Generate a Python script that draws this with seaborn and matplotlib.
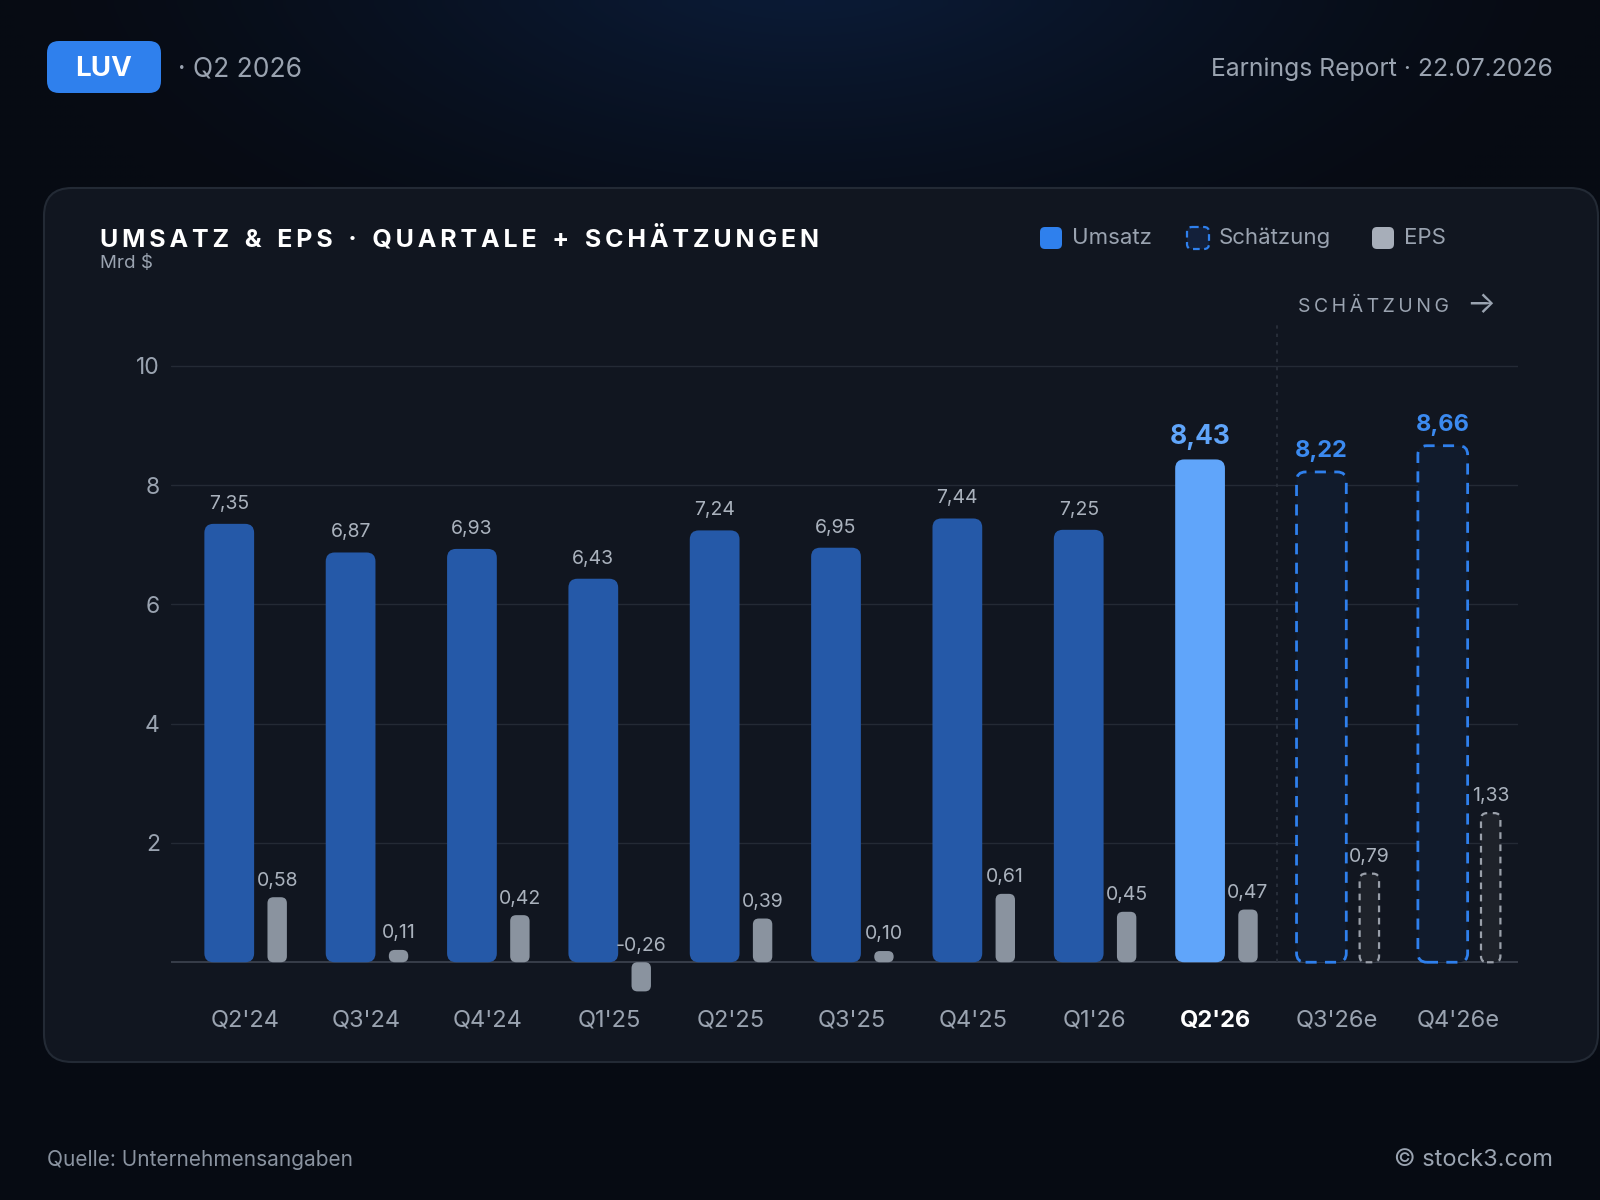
import numpy as np
import matplotlib
matplotlib.use("Agg")
import matplotlib.pyplot as plt
import seaborn as sns
from matplotlib.patches import FancyBboxPatch
from matplotlib.colors import to_rgb

# Daten (Mrd $ / EPS in $)
quartale = ["Q2'24", "Q3'24", "Q4'24", "Q1'25", "Q2'25", "Q3'25", "Q4'25",
            "Q1'26", "Q2'26", "Q3'26e", "Q4'26e"]
umsatz = [7.35, 6.87, 6.93, 6.43, 7.24, 6.95, 7.44, 7.25, 8.43, 8.22, 8.66]
eps = [0.58, 0.11, 0.42, -0.26, 0.39, 0.10, 0.61, 0.45, 0.47, 0.79, 1.33]
schaetzung = [False] * 9 + [True] * 2
aktuell = "Q2'26"
y_ticks = [2, 4, 6, 8, 10]

# Farben
BG = "#0a0f18"
CARD = "#111620"
BLAU = "#2559a8"
BLAU_HELL = "#60a5fa"
BLAU_AKZENT = "#2f80ed"
GRAU = "#8a939f"
TXT = "#9aa3b0"

sns.set_theme(style="white")
plt.rcParams["font.family"] = ["Inter", "DejaVu Sans"]

fig = plt.figure(figsize=(16, 12), dpi=100)
fig.patch.set_facecolor(BG)

# Hintergrund in Pixel-Koordinaten
bg = fig.add_axes([0, 0, 1, 1])
bg.set_xlim(0, 1600)
bg.set_ylim(1200, 0)
bg.axis("off")
yy, xx = np.mgrid[0:120, 0:160]
d = np.sqrt(((xx / 160 - 0.5) / 0.5) ** 2 + ((yy / 120 + 0.05) / 0.32) ** 2)
t = np.clip(1 - d, 0, 1) ** 1.4
c0, c1 = np.array(to_rgb("#070b13")), np.array(to_rgb("#0c1e3d"))
img = c0 + t[..., None] * (c1 - c0)
bg.imshow(img, extent=(0, 1600, 1200, 0), aspect="auto", interpolation="bilinear", zorder=0)

bg.add_patch(FancyBboxPatch((44, 188), 1554, 874, boxstyle="round,pad=0,rounding_size=28",
                            fc=CARD, ec="#232a35", lw=1.5, zorder=1))

# Kopfzeile
bg.add_patch(FancyBboxPatch((47, 41), 114, 52, boxstyle="round,pad=0,rounding_size=12",
                            fc=BLAU_AKZENT, ec="none", zorder=2))
bg.text(104, 69, "LUV", color="white", fontsize=20, fontweight="bold", ha="center", va="center", zorder=3)
bg.text(178, 69, "· Q2 2026", color=TXT, fontsize=19, ha="left", va="center")
bg.text(1553, 69, "Earnings Report · 22.07.2026", color=TXT, fontsize=17.8, ha="right", va="center")

# Kartentitel (gesperrt)
titel = "\u2009".join("UMSATZ & EPS · QUARTALE + SCHÄTZUNGEN").replace(" ", " \u200a")
bg.text(100, 239, titel, color="white", fontsize=18, fontweight="bold",
        ha="left", va="center", zorder=3)
bg.text(100, 263, "Mrd $", color=TXT, fontsize=13.5, ha="left", va="center", zorder=3)

# Legende
leg = [(1051, "Umsatz", dict(fc=BLAU_AKZENT, ec="none")),
       (1198, "Schätzung", dict(fc="#13203a", ec=BLAU_AKZENT, ls=(0, (3, 2)), lw=1.6)),
       (1383, "EPS", dict(fc="#a7aeb9", ec="none"))]
for cx, lab, kw in leg:
    bg.add_patch(FancyBboxPatch((cx - 11, 227), 22, 22, boxstyle="round,pad=0,rounding_size=5",
                                zorder=3, **kw))
    bg.text(cx + 21, 238, lab, color=TXT, fontsize=16, ha="left", va="center", zorder=3)

bg.text(1298, 307, "\u2009".join("SCHÄTZUNG"), color=TXT, fontsize=14,
        ha="left", va="center", zorder=3)
bg.text(1481, 305, "\u2192", color=TXT, fontsize=22, ha="center", va="center", zorder=3)

# Fußzeile
bg.text(47, 1160, "Quelle: Unternehmensangaben", color="#8a93a0", fontsize=15, ha="left", va="center")
bg.text(1553, 1160, "© stock3.com", color="#9aa3b0", fontsize=17, ha="right", va="center")

# Diagramm
ax = fig.add_axes([171 / 1600, 1 - 1004 / 1200, (1518 - 171) / 1600, (1004 - 330) / 1200])
ax.set_facecolor("none")
ax2 = ax.twinx()
ax2.set_facecolor("none")

sns.barplot(x=quartale, y=umsatz, ax=ax, width=0.41, color=BLAU, saturation=1)
sns.barplot(x=quartale, y=eps, ax=ax2, width=0.16, color=GRAU, saturation=1)

XLIM = (-0.61, 10.49)
YLIM = (-0.7, 10.6)
K = 1.88  # Skalierung EPS gegenüber Umsatz
ax.set_xlim(XLIM)
ax.set_ylim(YLIM)
ax2.set_ylim(YLIM[0] / K, YLIM[1] / K)

for a in (ax, ax2):
    for s in a.spines.values():
        s.set_visible(False)
ax2.set_yticks([])
ax2.set_ylabel("")
ax.set_yticks(y_ticks)
ax.set_yticklabels([str(v) for v in y_ticks])
ax.tick_params(axis="y", colors=TXT, labelsize=16.5, length=0, pad=8)
ax.tick_params(axis="x", colors=TXT, labelsize=17, length=0, pad=4)
ax.set_xticks(range(len(quartale)))
ax.set_xticklabels(quartale)
for lab in ax.get_xticklabels():
    if lab.get_text() == aktuell:
        lab.set_color("white")
        lab.set_fontweight("bold")
ax.yaxis.grid(True, color="#242a35", lw=1)
ax.set_axisbelow(True)
ax.axhline(0, color="#3a414d", lw=1.3, zorder=1)
ax.axvline(8.5, ymin=(0 - YLIM[0]) / (YLIM[1] - YLIM[0]), ymax=1.01, color="#2c323d",
           lw=1.2, ls=(0, (2, 3)), zorder=1, clip_on=False)
ax.set_ylim(YLIM)


def px_per_unit(a):
    p0 = a.transData.transform((0, 0))
    p1 = a.transData.transform((1, 1))
    return p1[0] - p0[0], p1[1] - p0[1]


def runde_balken(a, shift, radius_px, styles):
    sx, sy = px_per_unit(a)
    asp = sx / sy
    patches = list(a.patches)
    for p, st in zip(patches, styles):
        x0 = p.get_x() + shift
        w = p.get_width()
        y0 = min(p.get_y(), p.get_y() + p.get_height())
        h = abs(p.get_height())
        p.remove()
        r = min(radius_px / sx, w / 2, h / (2 * asp))
        a.add_patch(FancyBboxPatch((x0, y0), w, h, boxstyle=f"round,pad=0,rounding_size={r}",
                                   mutation_aspect=asp, zorder=3, **st))


st_u, st_e = [], []
for q, est in zip(quartale, schaetzung):
    if est:
        st_u.append(dict(fc="#111b2c", ec=BLAU_AKZENT, lw=2, ls=(0, (4, 3))))
        st_e.append(dict(fc="#1e222a", ec="#9aa0aa", lw=1.6, ls=(0, (3, 2.5))))
    elif q == aktuell:
        st_u.append(dict(fc=BLAU_HELL, ec="none"))
        st_e.append(dict(fc=GRAU, ec="none"))
    else:
        st_u.append(dict(fc=BLAU, ec="none"))
        st_e.append(dict(fc=GRAU, ec="none"))

runde_balken(ax, -0.13, 9, st_u)
runde_balken(ax2, 0.265, 6, st_e)


def fmt(v):
    return f"{v:.2f}".replace(".", ",")


for i, (q, u, e, est) in enumerate(zip(quartale, umsatz, eps, schaetzung)):
    if est:
        kw = dict(color="#3b8af0", fontsize=17, fontweight="bold")
        off = 7
    elif q == aktuell:
        kw = dict(color=BLAU_HELL, fontsize=19, fontweight="bold")
        off = 6.5
    else:
        kw = dict(color="#aab2bd", fontsize=14)
        off = 8
    ax.annotate(fmt(u), (i - 0.13, u), xytext=(0, off), textcoords="offset points",
                ha="center", va="bottom", zorder=5, **kw)
    ax2.annotate(fmt(e), (i + 0.265, max(e, 0)), xytext=(0, 5.5), textcoords="offset points",
                 ha="center", va="bottom", color="#aab2bd", fontsize=14, zorder=5)

fig.savefig("out.png", dpi=100, facecolor=BG)
